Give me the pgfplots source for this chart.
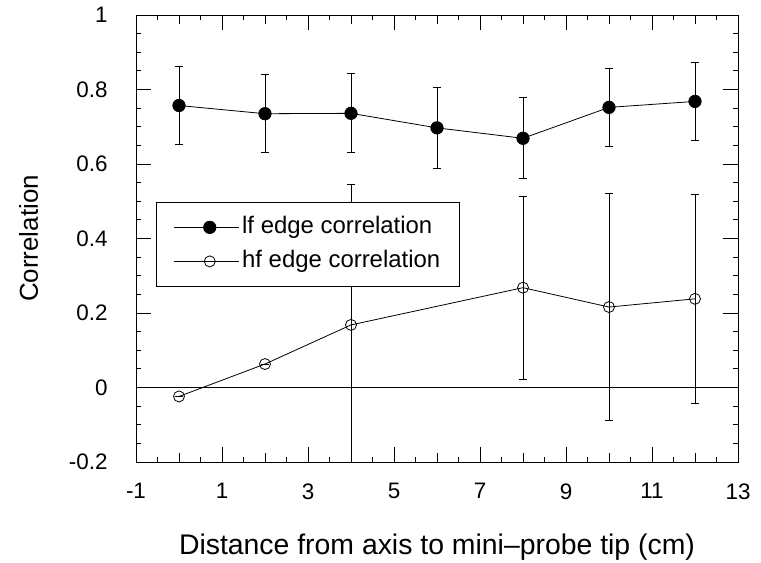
\documentclass[border=0pt]{standalone}
\usepackage{pgfplots}
\pgfplotsset{compat=1.18}
\usepackage{fontspec}
\setmainfont{Liberation Sans}
\begin{document}
\begin{tikzpicture}[x=1bp,y=1bp]
\path[use as bounding box] (-136bp,-101bp) rectangle (625bp,462bp);
\begin{axis}[
  at={(0,0)}, anchor=south west,
  scale only axis, width=602bp, height=447bp,
  xmin=-1, xmax=13, ymin=-0.2, ymax=1,
  xtick={-1,1,3,5,7,9,11,13},
  xticklabels={-1,1,3,5,7,9,11,13},
  ytick={-0.2,0,0.2,0.4,0.6,0.8,1},
  yticklabels={-0.2,0,0.2,0.4,0.6,0.8,1},
  minor x tick num=3, minor y tick num=3,
  extra x ticks={0,2,4,6,8,10,12},
  extra x tick labels={},
  extra x tick style={major tick length=9bp},
  tick align=inside, tick pos=both,
  major tick length=15bp, minor tick length=5bp,
  tick style={black, line width=0.8pt},
  axis line style={line width=0.9pt},
  ticklabel style={font=\fontsize{22.5}{26}\selectfont},
  xticklabel style={yshift=-18bp},
  yticklabel style={xshift=-25bp},
  xlabel={Distance from axis to mini--probe tip (cm)},
  ylabel={Correlation},
  xlabel style={font=\fontsize{28.5}{32}\selectfont, at={(axis description cs:0.5,-0.208)}, anchor=base},
  ylabel style={font=\fontsize{26}{30}\selectfont, at={(axis description cs:-0.1628,0.5)}, anchor=base},
  legend style={at={(0.0332,0.5817)}, anchor=north west, draw=black, line width=0.8pt,
    font=\fontsize{24}{28}\selectfont,
    nodes={inner sep=2bp, text height=17bp, text depth=5bp},
    inner xsep=17bp, inner ysep=12bp, row sep=8bp, column sep=1bp},
  legend cell align=left,
  legend image code/.code={\draw[#1, mark repeat=2, mark phase=2] plot coordinates {(0bp,0bp) (36bp,0bp) (65bp,0bp)};},
]
\addplot[black, line width=0.7pt, forget plot] coordinates {(-1,0) (13,0)};
\addplot[black, line width=0.8pt, mark=*, mark size=6.2bp, mark options={fill=black},
  error bars/.cd, y dir=both, y explicit,
  error bar style={line width=1pt},
  error mark options={rotate=90, mark size=4.2bp, line width=1pt}]
  coordinates {
  (0,0.757) +- (0,0.104)
  (2,0.735) +- (0,0.105)
  (4,0.736) +- (0,0.106)
  (6,0.697) +- (0,0.108)
  (8,0.669) +- (0,0.109)
  (10,0.752) +- (0,0.104)
  (12,0.768) +- (0,0.104)
  };
\addlegendentry{lf edge correlation}
\addplot[black, line width=0.8pt, mark=o, mark size=5.5bp, mark options={fill=white},
  error bars/.cd, y dir=both, y explicit,
  error bar style={line width=0.9pt},
  error mark options={rotate=90, mark size=4.2bp, line width=1pt}]
  coordinates {
  (0,-0.024) +- (0,0)
  (2,0.063) +- (0,0)
  (4,0.168) +- (0,0.378)
  (8,0.268) +- (0,0.246)
  (10,0.216) +- (0,0.304)
  (12,0.238) +- (0,0.28)
  };
\addlegendentry{hf edge correlation}
\end{axis}
\end{tikzpicture}
\end{document}
